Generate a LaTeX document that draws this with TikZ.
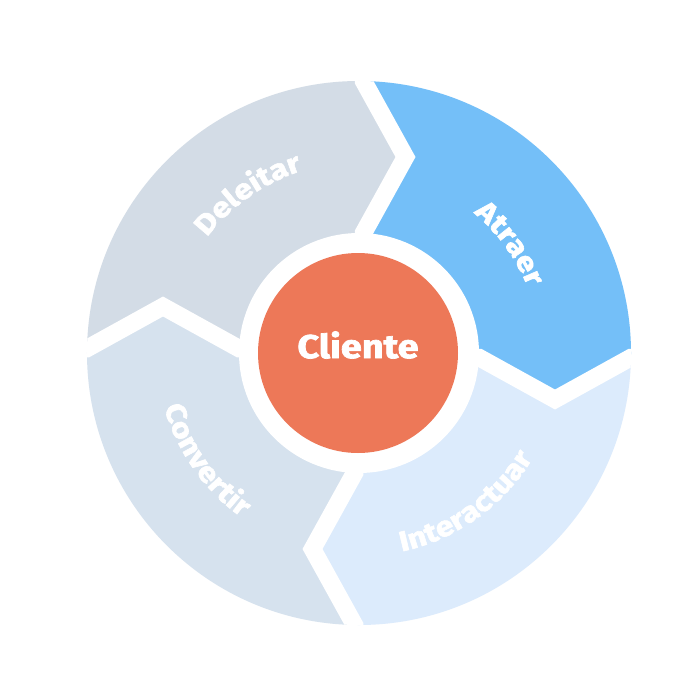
\documentclass[tikz,border=0pt]{standalone}
\usepackage{fontspec}
\setmainfont{Fira Sans}[BoldFeatures={FakeStretch=1.15, FakeBold=2.2}]
\usetikzlibrary{decorations.text}
\definecolor{cDel}{HTML}{D3DCE6}
\definecolor{cAtr}{HTML}{74BFF8}
\definecolor{cInt}{HTML}{DCEBFC}
\definecolor{cCon}{HTML}{D6E2EE}
\definecolor{cOra}{HTML}{ED7858}
\newcommand\lblfont{\bfseries\fontsize{28}{28}\selectfont\color{white}}
\begin{document}
\begin{tikzpicture}[x=1pt,y=1pt,
  gapline/.style={draw=white, line width=17.5pt, line join=miter, miter limit=10},
  arclabel/.style={decorate, decoration={text along path, text align=center, text={|\lblfont|#1}}}]
\useasboundingbox (-359,-319) rectangle (341,353);
\fill[white] (-359,-319) rectangle (341,353);
\begin{scope}
  \clip (0,0) circle[radius=272];
  \foreach \c/\a in {cAtr/0, cInt/-90, cCon/-180, cDel/-270}{
    \fill[\c, rotate=\a] (4.5,500) -- (4.5,272) -- (46.5,196) -- (4.5,120) -- (4.5,-4.5)
      -- (120,-4.5) -- (196,-46.5) -- (272,-4.5) -- (500,-4.5) -- (500,500) -- cycle;
  }
  \foreach \a in {0,-90,-180,-270}{
    \draw[gapline, rotate=\a] (4.5,500) -- (4.5,272) -- (46.5,196) -- (4.5,120) -- (4.5,0);
  }
\end{scope}
\fill[white] (0,0) circle[radius=120];
\node[circle, fill=cOra, minimum size=200pt, inner sep=0pt] (cliente) at (-1,0) {};
\node[text=white, font=\bfseries\fontsize{33}{33}\selectfont, inner sep=0pt] (clientetxt) at (-1,8) {Cliente};
\path[arclabel=Deleitar] (170:191) arc[start angle=170, end angle=80, radius=191];
\path[arclabel=Atraer] (81:181) arc[start angle=81, end angle=-9, radius=181];
\path[arclabel=Interactuar] (-99.5:203) arc[start angle=-99.5, end angle=-9.5, radius=203];
\path[arclabel=Convertir] (-190:202) arc[start angle=-190, end angle=-100, radius=202];
\end{tikzpicture}
\end{document}
